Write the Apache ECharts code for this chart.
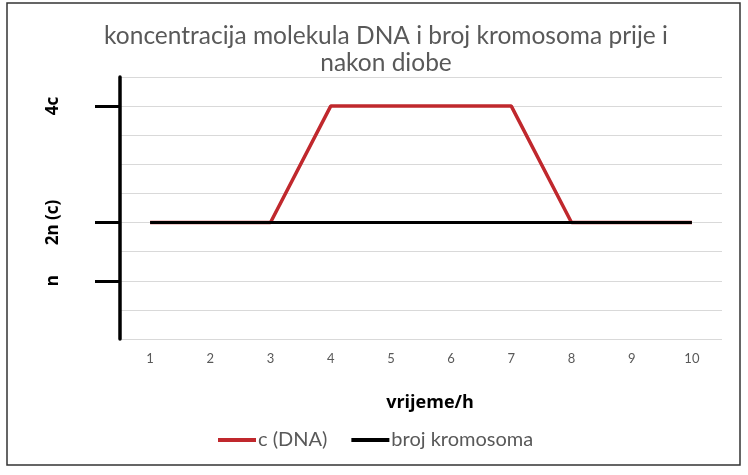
<!DOCTYPE html>
<html><head><meta charset="utf-8">
<script src="https://cdn.jsdelivr.net/npm/echarts@6/dist/echarts.min.js"></script>
<style>html,body{margin:0;padding:0;background:#fff}#c{width:748px;height:475px}</style>
</head><body><div id="c"></div>
<script>
const categories = ['1','2','3','4','5','6','7','8','9','10'];
const dnaValues = [4,4,4,8,8,8,8,4,4,4];
const chromosomeValues = [4,4,4,4,4,4,4,4,4,4];
const yTickValues = [2,4,8];
const yTickLabels = {2:'n',4:'2n (c)',8:'4c'};
const titleText = 'koncentracija molekula DNA i broj kromosoma prije i\nnakon diobe';

const chart = echarts.init(document.getElementById('c'));
chart.setOption({
  animation:false,
  backgroundColor:'#fff',
  graphic:[{type:'rect',shape:{x:7,y:3,width:733,height:462},style:{fill:'none',stroke:'#333',lineWidth:1.5},z:-1}],
  title:{text:titleText,left:381,textAlign:'center',top:18,
    textStyle:{fontFamily:'Lato',fontSize:24.5,fontWeight:'normal',color:'#595959',lineHeight:27}},
  grid:{left:120,right:26,top:77,bottom:136,containLabel:false},
  legend:{top:425,left:213,data:['c (DNA)','broj kromosoma'],itemWidth:38,itemHeight:4,itemGap:24,icon:'rect',
    textStyle:{fontFamily:'Lato',fontSize:20,color:'#595959',padding:[0,0,0,-3]}},
  xAxis:{type:'category',data:categories,boundaryGap:true,
    axisLine:{show:false},axisTick:{show:false},
    axisLabel:{fontFamily:'Lato',fontSize:13,color:'#595959',margin:13},
    name:'vrijeme/h',nameLocation:'middle',nameGap:55,
    nameTextStyle:{fontFamily:'Open Sans',fontSize:18,fontWeight:'bold',color:'#000',padding:[0,0,0,18]}},
  yAxis:[
    {type:'value',min:0,max:9,interval:1,position:'left',
      axisLine:{show:false},axisTick:{show:false},axisLabel:{show:false},
      splitLine:{show:true,lineStyle:{color:'#d9d9d9',width:1}}},
    {type:'value',min:0,max:9,interval:1,position:'left',offset:0,
      axisLine:{show:true,onZero:false,lineStyle:{color:'#000',width:3.5}},
      axisTick:{show:true,customValues:yTickValues,length:25,lineStyle:{color:'#000',width:3}},
      axisLabel:{customValues:yTickValues,rotate:90,margin:67,formatter:v=>yTickLabels[v]||'',
        fontFamily:'Open Sans',fontSize:17,fontWeight:'bold',color:'#000',align:'center',verticalAlign:'middle'},
      splitLine:{show:false}}
  ],
  series:[
    {name:'c (DNA)',type:'line',data:dnaValues,yAxisIndex:0,symbol:'none',z:2,color:'#c0282d',lineStyle:{color:'#c0282d',width:3.5}},
    {name:'broj kromosoma',type:'line',data:chromosomeValues,yAxisIndex:0,symbol:'none',z:3,color:'#000',lineStyle:{color:'#000',width:3}}
  ]
});
</script></body></html>
